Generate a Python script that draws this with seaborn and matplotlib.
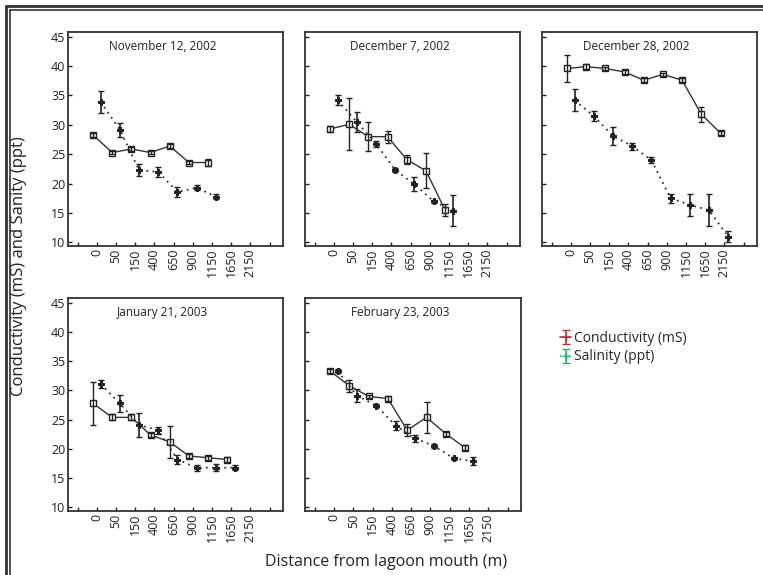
import numpy as np
import pandas as pd
import matplotlib.pyplot as plt
import seaborn as sns

# distancias (categorias do eixo x)
distances = ["0", "50", "150", "400", "650", "900", "1150", "1650", "2150"]

titles = ["November 12, 2002", "December 7, 2002", "December 28, 2002",
          "January 21, 2003", "February 23, 2003"]

# condutividade (mS) por data
cond_nov12 = [28.3, 25.3, 25.9, 25.3, 26.4, 23.6, 23.6]
cond_dec07 = [29.3, 30.1, 28.0, 28.0, 24.1, 22.2, 15.5]
cond_dec28 = [39.6, 39.9, 39.6, 39.0, 37.6, 38.6, 37.6, 31.8, 28.6]
cond_jan21 = [27.8, 25.4, 25.4, 22.4, 21.2, 18.8, 18.5, 18.2]
cond_feb23 = [33.3, 30.8, 29.0, 28.6, 23.2, 25.4, 22.6, 20.2]

cond_err_nov12 = [0.3, 0.3, 0.3, 0.3, 0.4, 0.3, 0.6]
cond_err_dec07 = [0.5, 4.4, 2.5, 1.0, 0.7, 3.0, 1.0]
cond_err_dec28 = [2.3, 0.4, 0.3, 0.3, 0.3, 0.3, 0.3, 1.3, 0.3]
cond_err_jan21 = [3.7, 0.5, 0.5, 0.3, 2.7, 0.4, 0.3, 0.4]
cond_err_feb23 = [0.4, 1.0, 0.3, 0.4, 1.0, 2.6, 0.3, 0.4]

# salinidade (ppt) por data
sal_nov12 = [33.9, 29.2, 22.3, 22.0, 18.6, 19.3, 17.8]
sal_dec07 = [34.2, 30.5, 26.8, 22.3, 19.9, 17.0, 15.4]
sal_dec28 = [34.2, 31.5, 28.1, 26.4, 24.0, 17.5, 16.4, 15.5, 11.0]
sal_jan21 = [31.1, 27.8, 24.1, 23.2, 18.2, 16.8, 16.8, 16.8]
sal_feb23 = [33.3, 29.1, 27.4, 24.0, 21.8, 20.5, 18.4, 17.9]

sal_err_nov12 = [1.8, 1.2, 1.0, 0.8, 0.9, 0.4, 0.4]
sal_err_dec07 = [0.8, 1.7, 0.5, 0.3, 1.2, 0.3, 2.6]
sal_err_dec28 = [1.9, 0.9, 1.5, 0.6, 0.5, 0.8, 1.9, 2.7, 1.0]
sal_err_jan21 = [0.7, 1.5, 2.0, 0.6, 0.8, 0.5, 0.6, 0.4]
sal_err_feb23 = [0.4, 1.1, 0.3, 0.7, 0.6, 0.3, 0.3, 0.7]

conds = [cond_nov12, cond_dec07, cond_dec28, cond_jan21, cond_feb23]
cond_errs = [cond_err_nov12, cond_err_dec07, cond_err_dec28, cond_err_jan21, cond_err_feb23]
sals = [sal_nov12, sal_dec07, sal_dec28, sal_jan21, sal_feb23]
sal_errs = [sal_err_nov12, sal_err_dec07, sal_err_dec28, sal_err_jan21, sal_err_feb23]

sns.set_style("ticks")
plt.rcParams["font.family"] = ["Open Sans", "DejaVu Sans"]

fig = plt.figure(figsize=(7.63, 5.75), dpi=100)
W, H = 763, 575

# posicoes dos paineis em pixels (esq, topo, dir, base)
boxes = [(68, 32, 283, 246), (305, 32, 520, 246), (542, 32, 757, 246),
         (68, 298, 283, 511), (305, 298, 521, 511)]

dodge = 0.2
for i in range(5):
    l, t, r, b = boxes[i]
    ax = fig.add_axes([l / W, 1 - b / H, (r - l) / W, (b - t) / H])
    n = len(conds[i])
    idx = np.arange(n)
    df = pd.DataFrame({
        "x": np.concatenate([idx - dodge, idx + dodge]),
        "valor": conds[i] + sals[i],
        "erro": cond_errs[i] + sal_errs[i],
        "serie": ["Conductivity (mS)"] * n + ["Salinity (ppt)"] * n,
    })
    c = df[df.serie == "Conductivity (mS)"]
    s = df[df.serie == "Salinity (ppt)"]

    sns.lineplot(data=c, x="x", y="valor", ax=ax, color="#333333", lw=1.0,
                 marker="s", markersize=5, markerfacecolor="white",
                 markeredgecolor="#222222", markeredgewidth=1.0)
    sns.lineplot(data=s, x="x", y="valor", ax=ax, color="#333333", lw=1.3,
                 linestyle=(0, (1, 2.4)), marker="P", markersize=4.5,
                 markerfacecolor="#222222", markeredgecolor="#222222")
    ax.errorbar(c["x"], c["valor"], yerr=c["erro"], fmt="none",
                ecolor="#222222", elinewidth=1.0, capsize=2, capthick=1.0)
    ax.errorbar(s["x"], s["valor"], yerr=s["erro"], fmt="none",
                ecolor="#222222", elinewidth=1.2, capsize=2, capthick=1.0)

    ax.set_xlim(-1.5, 9.7)
    ax.set_ylim(9.4, 45.8)
    ax.set_xticks(np.arange(-1, 10))
    ax.set_xticklabels([""] + distances + [""], rotation=90, fontsize=9)
    ax.set_yticks(np.arange(10, 50, 5))
    if i in (0, 3):
        ax.tick_params(axis="y", labelsize=9)
    else:
        ax.set_yticklabels([])
    ax.tick_params(direction="in", length=3, width=1.0, colors="#222222",
                   labelcolor="#222222", pad=2)
    ax.set_xlabel("")
    ax.set_ylabel("")
    for sp in ax.spines.values():
        sp.set_visible(True)
        sp.set_linewidth(1.3)
        sp.set_color("#333333")
    ax.text(0.44, 0.93, titles[i], transform=ax.transAxes, ha="center",
            va="center", fontsize=8.5, color="#222222")
    if ax.get_legend() is not None:
        ax.get_legend().remove()

# legenda no espaco vazio
lax = fig.add_axes([0.72, 0.35, 0.25, 0.1])
lax.axis("off")
h1 = lax.errorbar([np.nan], [np.nan], yerr=[1], color="#b03a3a", lw=1.2,
                  marker="+", capsize=3, label="Conductivity (mS)")
h2 = lax.errorbar([np.nan], [np.nan], yerr=[1], color="#22b573", lw=1.2,
                  linestyle=":", marker="+", capsize=3, label="Salinity (ppt)")
fig.legend(handles=[h1, h2], loc="upper left", bbox_to_anchor=(560 / W, 1 - 331 / H),
           frameon=False, fontsize=10, handlelength=0.8, handletextpad=0.2,
           labelspacing=0.25, borderaxespad=0, borderpad=0)

fig.text(19 / W, 1 - 266 / H, "Conductivity (mS) and Sanity (ppt)", rotation=90,
         ha="center", va="center", fontsize=12, color="#222222")
fig.text(386 / W, 1 - 562 / H, "Distance from lagoon mouth (m)", ha="center",
         va="center", fontsize=11.5, color="#222222")

# moldura dupla da figura
for off, lw in [(6, 2.0), (9.5, 1.2)]:
    fig.add_artist(plt.Line2D([off / W, off / W], [0, 1 - off / H],
                              transform=fig.transFigure, color="#333333", lw=lw))
    fig.add_artist(plt.Line2D([off / W, 1], [1 - off / H, 1 - off / H],
                              transform=fig.transFigure, color="#333333", lw=lw))

fig.savefig("out.png", dpi=100)
plt.close()
